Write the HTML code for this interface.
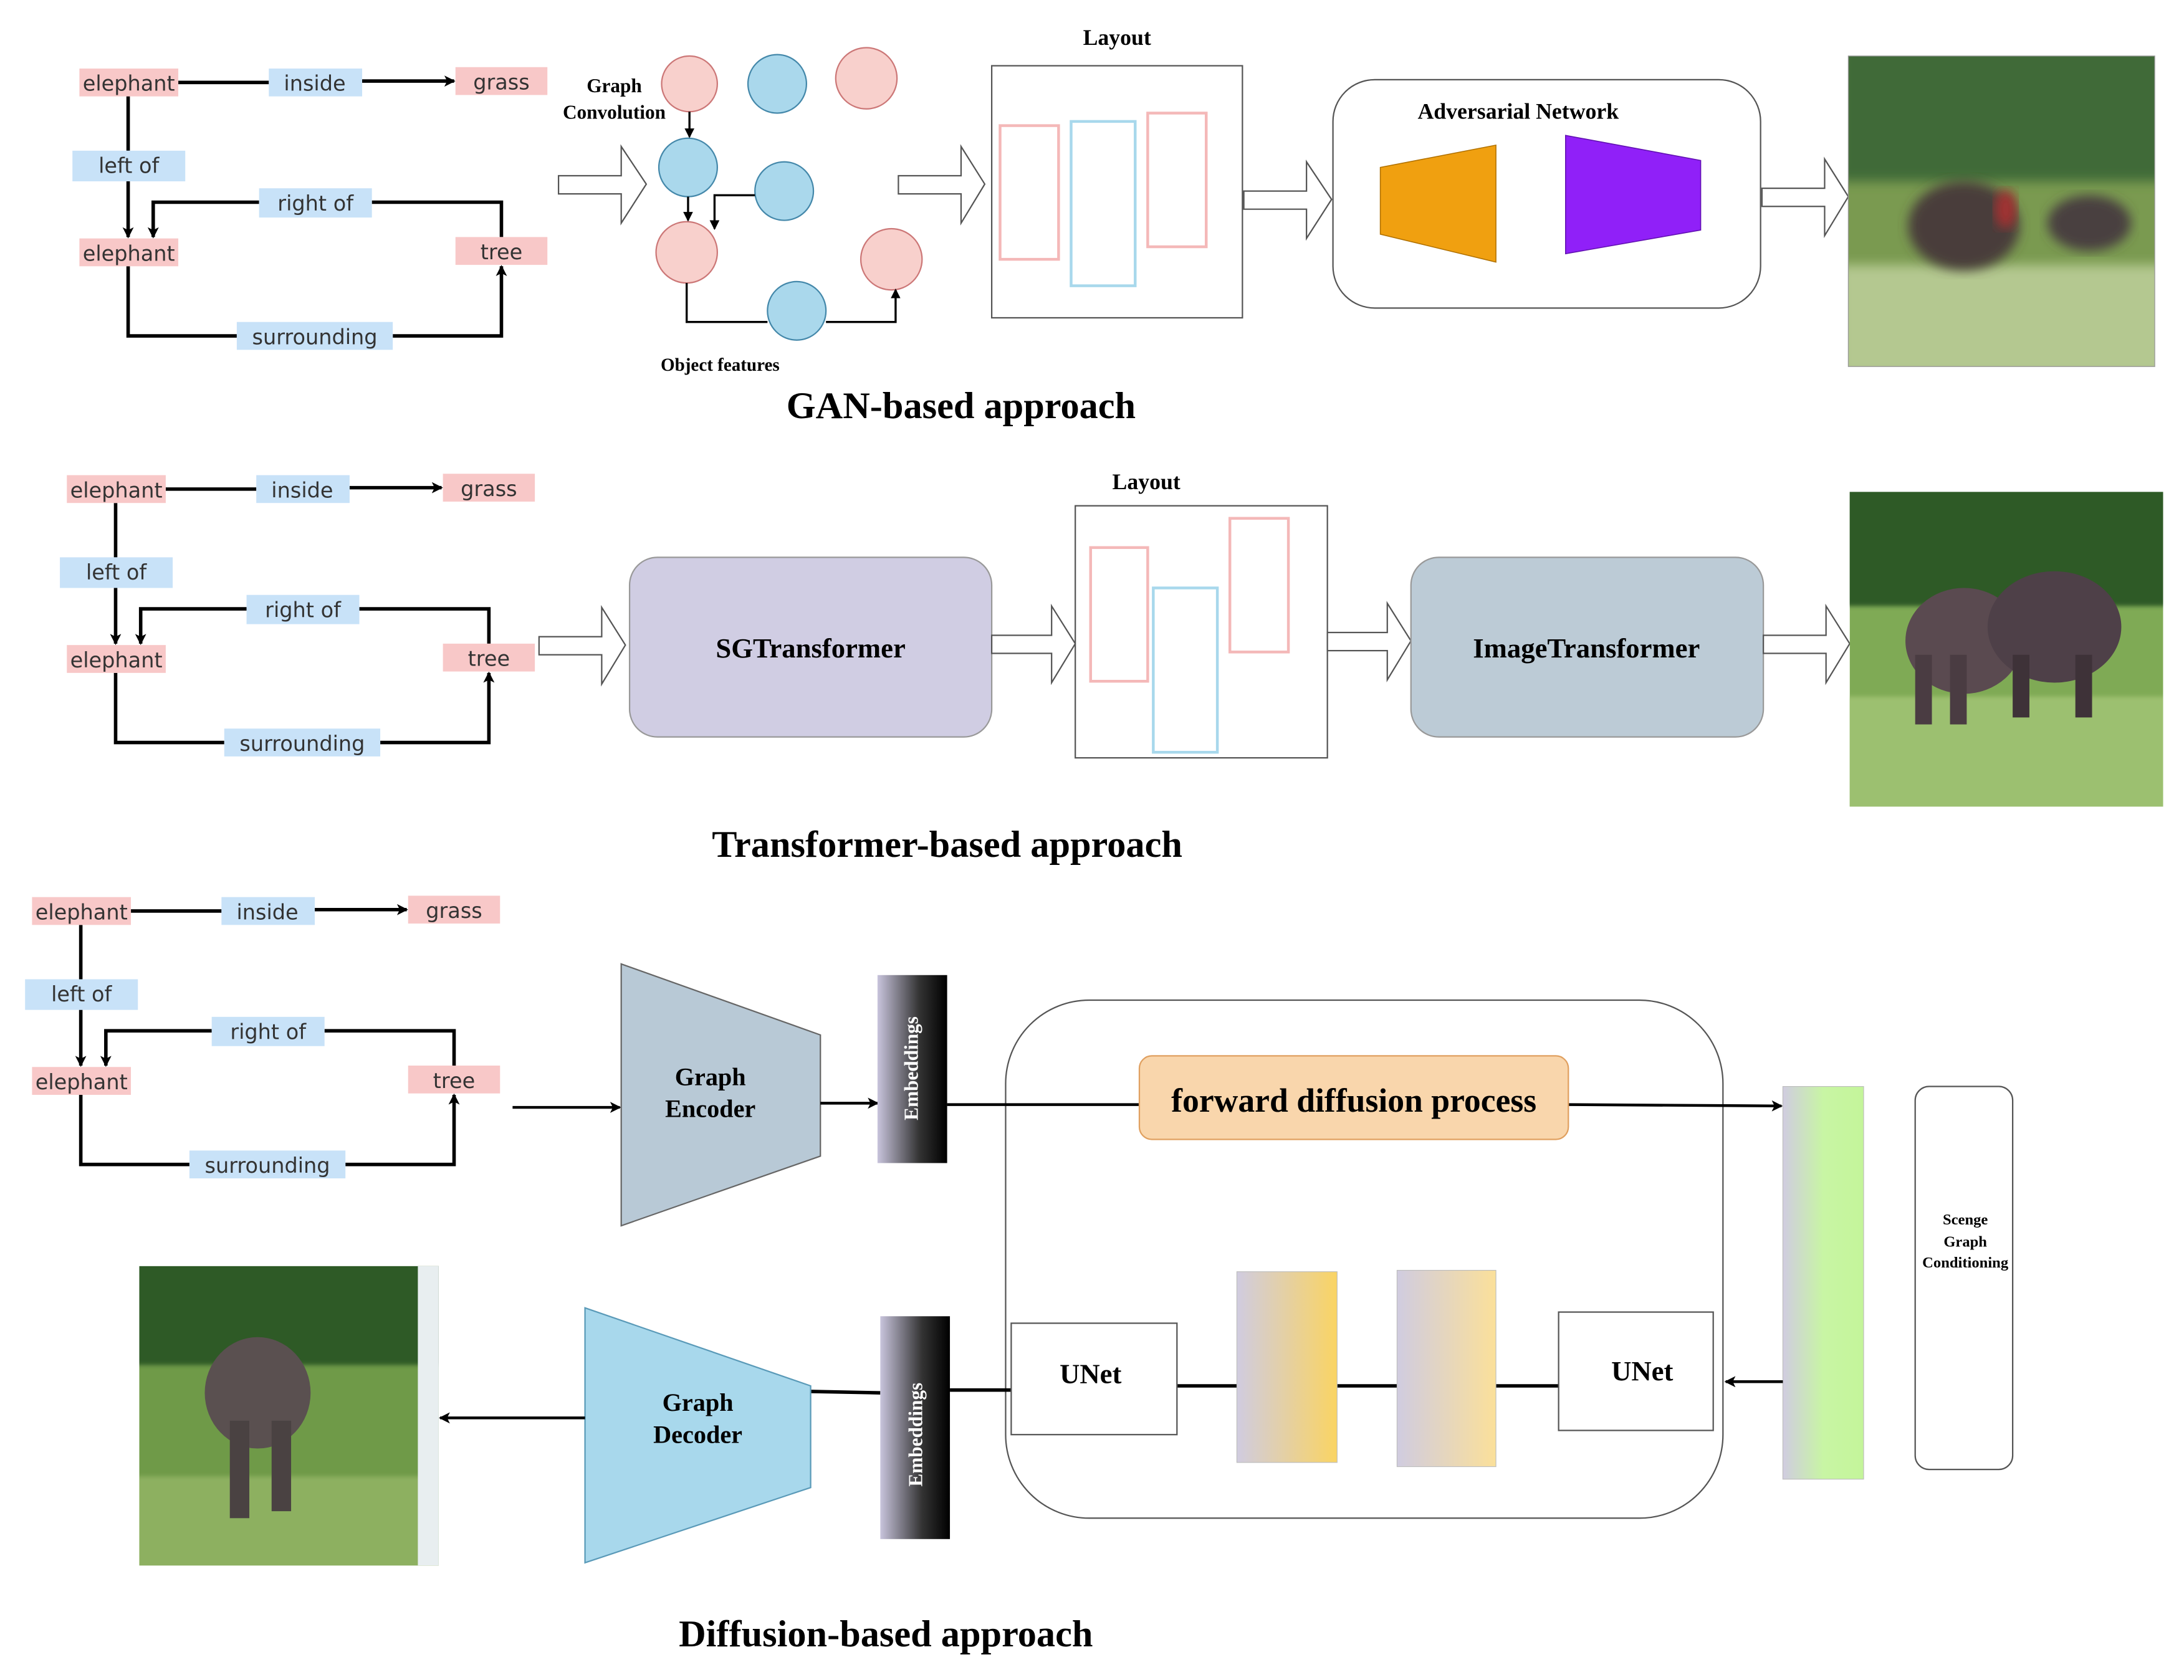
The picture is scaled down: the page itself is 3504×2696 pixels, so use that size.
<!DOCTYPE html>
<html><head><meta charset="utf-8"><style>html,body{margin:0;padding:0;background:#fff}svg{display:block}</style></head>
<body>
<svg width="3504" height="2696" viewBox="0 0 1568 1206" xmlns="http://www.w3.org/2000/svg">
<defs>
<marker id="ah" markerWidth="8" markerHeight="8" refX="7" refY="4" orient="auto" markerUnits="userSpaceOnUse" viewBox="0 0 8 8"><path d="M0,0 L8,4 L0,8 L2,4 Z" fill="#000"/></marker>
<marker id="as" markerWidth="7" markerHeight="7" refX="6" refY="3.5" orient="auto" markerUnits="userSpaceOnUse"><path d="M0,0 L7,3.5 L0,7 Z" fill="#000"/></marker>
<linearGradient id="emb" x1="0" x2="1"><stop offset="0" stop-color="#c8c4dc"/><stop offset="0.6" stop-color="#333"/><stop offset="1" stop-color="#000"/></linearGradient>
<linearGradient id="gy" x1="0" x2="1"><stop offset="0" stop-color="#d0cce0"/><stop offset="1" stop-color="#fad463"/></linearGradient>
<linearGradient id="gy2" x1="0" x2="1"><stop offset="0" stop-color="#d0cce0"/><stop offset="1" stop-color="#fbe09a"/></linearGradient>
<linearGradient id="gg" x1="0" x2="1"><stop offset="0" stop-color="#d0cce0"/><stop offset="0.5" stop-color="#c8f5a4"/><stop offset="1" stop-color="#c4f59a"/></linearGradient>
<filter id="bl"><feGaussianBlur stdDeviation="4"/></filter>
<filter id="bl2"><feGaussianBlur stdDeviation="1.5"/></filter>
<clipPath id="c1"><rect x="1327" y="40" width="220" height="223"/></clipPath>
<clipPath id="c2"><rect x="1328" y="353" width="225" height="226"/></clipPath>
<clipPath id="c3"><rect x="100" y="909" width="215" height="215"/></clipPath>
<g id="sg" font-family="DejaVu Sans, sans-serif" font-size="15" fill="#333">
 <g stroke="#000" stroke-width="2.5" fill="none">
  <line x1="128" y1="59" x2="193" y2="59"/>
  <line x1="260" y1="58" x2="326" y2="58" marker-end="url(#ah)"/>
  <path d="M92 69 V108 M92 130 V170" marker-end="url(#ah)"/>
  <path d="M186 145 H110 V170" marker-end="url(#ah)"/>
  <path d="M267 145 H360 V170"/>
  <path d="M92 191 V241 H170"/>
  <path d="M282 241 H360 V191" marker-end="url(#ah)"/>
 </g>
 <rect x="57" y="49" width="71" height="20" fill="#f8c8c8"/><text x="92.5" y="65" text-anchor="middle">elephant</text>
 <rect x="193" y="49" width="67" height="20" fill="#c8e2f8"/><text x="226" y="65" text-anchor="middle">inside</text>
 <rect x="327" y="48" width="66" height="20" fill="#f8c8c8"/><text x="360" y="64" text-anchor="middle">grass</text>
 <rect x="52" y="108" width="81" height="22" fill="#c8e2f8"/><text x="92.5" y="124" text-anchor="middle">left of</text>
 <rect x="186" y="135" width="81" height="21" fill="#c8e2f8"/><text x="226.5" y="151" text-anchor="middle">right of</text>
 <rect x="57" y="171" width="71" height="20" fill="#f8c8c8"/><text x="92.5" y="187" text-anchor="middle">elephant</text>
 <rect x="327" y="170" width="66" height="20" fill="#f8c8c8"/><text x="360" y="186" text-anchor="middle">tree</text>
 <rect x="170" y="231" width="112" height="20" fill="#c8e2f8"/><text x="226" y="247" text-anchor="middle">surrounding</text>
</g>
</defs>
<rect width="1568" height="1206" fill="#fff"/>
<use href="#sg"/>
<use href="#sg" transform="translate(-9,292)"/>
<use href="#sg" transform="translate(-34,595)"/>

<g font-family="Liberation Serif, serif" font-weight="bold" fill="#000">
<path d="M401 126 H446 V105 L464 132 L446 160 V139 H401 Z" fill="#fff" stroke="#555"/>
<text x="441" y="66" font-size="14" text-anchor="middle">Graph</text>
<text x="441" y="85" font-size="14" text-anchor="middle">Convolution</text>
<g stroke-width="1">
<circle cx="495" cy="60" r="20" fill="#f8d0cc" stroke="#c77"/>
<circle cx="558" cy="60" r="21" fill="#aad8ec" stroke="#48a"/>
<circle cx="622" cy="56" r="22" fill="#f8d0cc" stroke="#c77"/>
<circle cx="494" cy="120" r="21" fill="#aad8ec" stroke="#48a"/>
<circle cx="563" cy="137" r="21" fill="#aad8ec" stroke="#48a"/>
<circle cx="493" cy="181" r="22" fill="#f8d0cc" stroke="#c77"/>
<circle cx="640" cy="186" r="22" fill="#f8d0cc" stroke="#c77"/>
<circle cx="572" cy="223" r="21" fill="#aad8ec" stroke="#48a"/>
</g>
<g stroke="#000" stroke-width="1.5" fill="none">
<line x1="495" y1="80" x2="495" y2="98" marker-end="url(#as)"/>
<line x1="494" y1="141" x2="494" y2="158" marker-end="url(#as)"/>
<path d="M542 140 H513 V164" marker-end="url(#as)"/>
<path d="M493 203 V231 H551"/>
<path d="M593 231 H643 V208" marker-end="url(#as)"/>
</g>
<text x="517" y="266" font-size="13" text-anchor="middle">Object features</text>
<path d="M645 126 H690 V105 L707 132 L690 160 V139 H645 Z" fill="#fff" stroke="#555"/>
<text x="802" y="32" font-size="16" text-anchor="middle">Layout</text>
<rect x="712" y="47" width="180" height="181" fill="#fff" stroke="#555"/>
<rect x="718" y="90" width="42" height="96" fill="none" stroke="#f4b8b8" stroke-width="2"/>
<rect x="769" y="87" width="46" height="118" fill="none" stroke="#a8d8ec" stroke-width="2"/>
<rect x="824" y="81" width="42" height="96" fill="none" stroke="#f4b8b8" stroke-width="2"/>
<path d="M893 137 H938 V116 L956 143 L938 171 V150 H893 Z" fill="#fff" stroke="#555"/>
<rect x="957" y="57" width="307" height="164" rx="30" fill="#fff" stroke="#555"/>
<text x="1090" y="85" font-size="16" text-anchor="middle">Adversarial Network</text>
<path d="M991 120 L1074 104 L1074 188 L991 168 Z" fill="#f0a010" stroke="#b07000" stroke-width="0.7"/>
<path d="M1124 97 L1221 115 L1221 165 L1124 182 Z" fill="#9020f8" stroke="#6010b0" stroke-width="0.7"/>
<path d="M1265 135 H1310 V114 L1327 141 L1310 169 V148 H1265 Z" fill="#fff" stroke="#555"/>
<g clip-path="url(#c1)">
<rect x="1327" y="40" width="220" height="223" fill="#7a9a50"/>
<rect x="1320" y="30" width="240" height="100" fill="#3f6a38" filter="url(#bl)"/>
<rect x="1320" y="190" width="240" height="80" fill="#b4c890" filter="url(#bl)"/>
<ellipse cx="1410" cy="162" rx="40" ry="32" fill="#4a3e3a" filter="url(#bl)"/>
<ellipse cx="1500" cy="160" rx="30" ry="20" fill="#4a4040" filter="url(#bl)"/>
<ellipse cx="1440" cy="150" rx="8" ry="14" fill="#a03030" filter="url(#bl)"/>
</g>
<rect x="1327" y="40" width="220" height="223" fill="none" stroke="#999" stroke-width="0.6"/>
<text x="690" y="300" font-size="27" text-anchor="middle">GAN-based approach</text>

<path d="M387 457 H432 V436 L449 463 L432 491 V470 H387 Z" fill="#fff" stroke="#555"/>
<rect x="452" y="400" width="260" height="129" rx="20" fill="#d0cde3" stroke="#999"/>
<text x="582" y="472" font-size="20" text-anchor="middle">SGTransformer</text>
<path d="M712 456 H755 V435 L772 462 L755 490 V469 H712 Z" fill="#fff" stroke="#555"/>
<text x="823" y="351" font-size="16" text-anchor="middle">Layout</text>
<rect x="772" y="363" width="181" height="181" fill="#fff" stroke="#555"/>
<rect x="783" y="393" width="41" height="96" fill="none" stroke="#f4b8b8" stroke-width="2"/>
<rect x="828" y="422" width="46" height="118" fill="none" stroke="#a8d8ec" stroke-width="2"/>
<rect x="883" y="372" width="42" height="96" fill="none" stroke="#f4b8b8" stroke-width="2"/>
<path d="M953 454 H996 V433 L1013 460 L996 488 V467 H953 Z" fill="#fff" stroke="#555"/>
<rect x="1013" y="400" width="253" height="129" rx="20" fill="#bccbd6" stroke="#999"/>
<text x="1139" y="472" font-size="20" text-anchor="middle">ImageTransformer</text>
<path d="M1266 456 H1311 V435 L1328 462 L1311 490 V469 H1266 Z" fill="#fff" stroke="#555"/>
<g clip-path="url(#c2)">
<rect x="1328" y="353" width="225" height="226" fill="#7faa55"/>
<rect x="1320" y="345" width="240" height="90" fill="#2f5a28" filter="url(#bl2)"/>
<rect x="1320" y="500" width="240" height="90" fill="#9cc070" filter="url(#bl2)"/>
<ellipse cx="1410" cy="460" rx="42" ry="38" fill="#5a4a50"/>
<ellipse cx="1475" cy="450" rx="48" ry="40" fill="#4e4048"/>
<rect x="1375" y="470" width="12" height="50" fill="#4a3c42"/>
<rect x="1400" y="470" width="12" height="50" fill="#4a3c42"/>
<rect x="1445" y="470" width="12" height="45" fill="#3e3238"/>
<rect x="1490" y="470" width="12" height="45" fill="#3e3238"/>
</g>
<text x="680" y="615" font-size="27" text-anchor="middle">Transformer-based approach</text>

<line x1="368" y1="795" x2="445" y2="795" stroke="#000" stroke-width="2" marker-end="url(#ah)"/>
<path d="M446 692 L589 743 L589 830 L446 880 Z" fill="#b8c9d6" stroke="#666"/>
<text x="510" y="779" font-size="18" text-anchor="middle">Graph</text>
<text x="510" y="802" font-size="18" text-anchor="middle">Encoder</text>
<line x1="589" y1="792" x2="630" y2="792" stroke="#000" stroke-width="2" marker-end="url(#ah)"/>
<rect x="630" y="700" width="50" height="135" fill="url(#emb)"/>
<text transform="translate(659,767) rotate(-90)" font-size="14" fill="#fff" text-anchor="middle">Embeddings</text>
<rect x="722" y="718" width="515" height="372" rx="60" fill="none" stroke="#555"/>
<line x1="680" y1="793" x2="818" y2="793" stroke="#000" stroke-width="2"/>
<line x1="1126" y1="793" x2="1279" y2="794" stroke="#000" stroke-width="2" marker-end="url(#ah)"/>
<rect x="818" y="758" width="308" height="60" rx="9" fill="#f9d6ac" stroke="#e0a060"/>
<text x="972" y="798" font-size="24" text-anchor="middle">forward diffusion process</text>
<rect x="1280" y="780" width="58" height="282" fill="url(#gg)" stroke="#bbb" stroke-width="0.5"/>
<rect x="1375" y="780" width="70" height="275" rx="10" fill="#fff" stroke="#555"/>
<g font-size="11" text-anchor="middle"><text x="1411" y="879">Scenge</text><text x="1411" y="895">Graph</text><text x="1411" y="910">Conditioning</text></g>
<line x1="1280" y1="992" x2="1239" y2="992" stroke="#000" stroke-width="2" marker-end="url(#ah)"/>
<g stroke="#000" stroke-width="2.5"><line x1="845" y1="995" x2="888" y2="995"/><line x1="960" y1="995" x2="1003" y2="995"/><line x1="1074" y1="995" x2="1119" y2="995"/><line x1="682" y1="998" x2="726" y2="998"/><line x1="582" y1="999" x2="632" y2="1000"/></g>
<rect x="1119" y="942" width="111" height="85" fill="#fff" stroke="#555"/>
<text x="1179" y="991" font-size="20" text-anchor="middle">UNet</text>
<rect x="1003" y="912" width="71" height="141" fill="url(#gy2)" stroke="#bbb" stroke-width="0.5"/>
<rect x="888" y="913" width="72" height="137" fill="url(#gy)" stroke="#bbb" stroke-width="0.5"/>
<rect x="726" y="950" width="119" height="80" fill="#fff" stroke="#555"/>
<text x="783" y="993" font-size="20" text-anchor="middle">UNet</text>
<rect x="632" y="945" width="50" height="160" fill="url(#emb)"/>
<text transform="translate(662,1030) rotate(-90)" font-size="14" fill="#fff" text-anchor="middle">Embeddings</text>
<path d="M420 939 L582 995 L582 1068 L420 1122 Z" fill="#a8d8ec" stroke="#5a9ab8"/>
<text x="501" y="1013" font-size="18" text-anchor="middle">Graph</text>
<text x="501" y="1036" font-size="18" text-anchor="middle">Decoder</text>
<line x1="420" y1="1018" x2="316" y2="1018" stroke="#000" stroke-width="2" marker-end="url(#ah)"/>
<g clip-path="url(#c3)">
<rect x="100" y="909" width="215" height="215" fill="#6f9a48"/>
<rect x="95" y="900" width="230" height="80" fill="#2f5a28" filter="url(#bl2)"/>
<rect x="95" y="1060" width="230" height="70" fill="#8db060" filter="url(#bl2)"/>
<rect x="300" y="909" width="15" height="215" fill="#e8eef0"/>
<ellipse cx="185" cy="1000" rx="38" ry="40" fill="#5a5050"/>
<rect x="165" y="1020" width="14" height="70" fill="#4a4242"/>
<rect x="195" y="1020" width="14" height="65" fill="#4a4242"/>
</g>
<text x="636" y="1182" font-size="27" text-anchor="middle">Diffusion-based approach</text>
</g>
</svg>
</body></html>
